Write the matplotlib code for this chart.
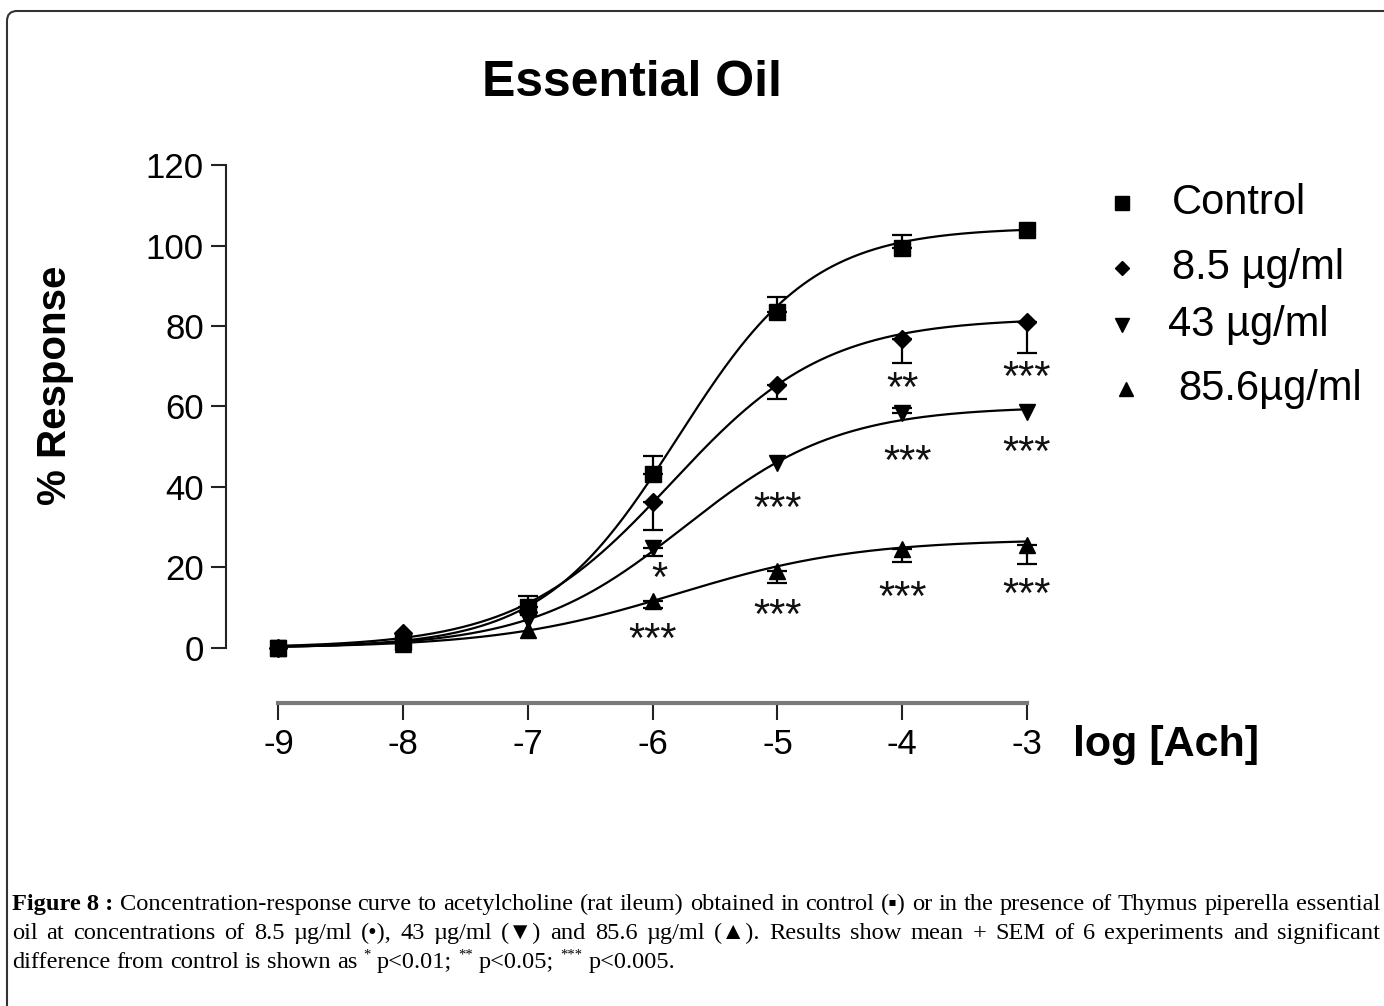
import numpy as np
import matplotlib
matplotlib.use('Agg')
import matplotlib.pyplot as plt
from matplotlib.patches import FancyBboxPatch
from matplotlib.lines import Line2D
from matplotlib.transforms import offset_copy, IdentityTransform

plt.rcParams['axes.unicode_minus'] = False
plt.rcParams['font.family'] = ['Liberation Sans', 'DejaVu Sans']

# ---------------- data ----------------
log_ach = [-9, -8, -7, -6, -5, -4, -3]
x_tick_labels = ['-9', '-8', '-7', '-6', '-5', '-4', '-3']
y_ticks = [0, 20, 40, 60, 80, 100, 120]

series_names = ['Control', '8.5 µg/ml', '43 µg/ml', '85.6µg/ml']
control = [0, 1.5, 10.2, 43.2, 83.5, 99.4, 103.8]
conc_8_5 = [0, 3.7, 9.0, 36.3, 65.3, 76.8, 81.0]
conc_43 = [0, 1.5, 7.0, 24.8, 46.0, 58.4, 58.6]
conc_85_6 = [0, 1.0, 4.5, 11.7, 19.1, 24.6, 25.6]

# SEM (lower, upper)
control_err_low = [0, 0, 0, 0, 0, 0, 0]
control_err_up = [0, 0, 2.8, 4.5, 3.8, 3.2, 0]
conc_8_5_err_low = [0, 0, 0, 7.0, 3.4, 5.9, 7.7]
conc_8_5_err_up = [0, 0, 0, 0, 0, 0, 0]
conc_43_err_low = [0, 0, 0, 2.0, 0, 0, 0]
conc_43_err_up = [0, 0, 0, 0, 0, 1.2, 0]
conc_85_6_err_low = [0, 0, 0, 1.7, 3.0, 3.2, 4.7]
conc_85_6_err_up = [0, 0, 0, 0, 0, 0, 0]

# fitted sigmoid parameters
fit_bottom = [0, 0, 0, 0]
fit_top = [104.5, 82.0, 60.0, 27.0]
fit_logec50 = [-5.8, -5.85, -5.75, -5.8]
fit_hill = [0.8, 0.7, 0.7, 0.6]

# significance labels
sig_x = [-4, -3, -5.95, -5, -3.96, -3, -6, -5, -4, -3]
sig_y = [65.8, 68.6, 18.6, 36.0, 47.7, 49.9, 3.5, 9.4, 13.9, 14.7]
sig_text = ['**', '***', '*', '***', '***', '***', '***', '***', '***', '***']

# ---------------- figure ----------------
W, H = 1384, 1006
fig = plt.figure(figsize=(W / 100, H / 100), dpi=100)
fig.patch.set_facecolor('white')

def fx(px):
    return px / W

def fy(py):
    return 1 - py / H

# outer rounded frame
frame = FancyBboxPatch((7, -60), 1500, 1006 - 11 + 60,
                       boxstyle='round,pad=0,rounding_size=10',
                       transform=IdentityTransform(), facecolor='none',
                       edgecolor='#333333', linewidth=1.5)
fig.add_artist(frame)

ax = fig.add_axes([fx(226), fy(703), (1039.5 - 226) / W, (703 - 157) / H])
ax.set_xlim(-9.42, -2.9)
ax.set_ylim(-13.7, 122)
ax.patch.set_alpha(0)

for s in ['top', 'right']:
    ax.spines[s].set_visible(False)
ax.spines['left'].set_bounds(0, 120)
ax.spines['left'].set_linewidth(1.5)
ax.spines['left'].set_color('#222222')
ax.spines['bottom'].set_bounds(-9, -3)
ax.spines['bottom'].set_linewidth(3)
ax.spines['bottom'].set_color('#7a7a7a')

ax.set_xticks(log_ach)
ax.set_xticklabels(x_tick_labels)
ax.set_yticks(y_ticks)
ax.tick_params(axis='y', length=11, width=1.5, pad=5, labelsize=25, color='#222222')
ax.tick_params(axis='x', length=12, width=1.5, pad=6, labelsize=25, color='#222222')

series = [control, conc_8_5, conc_43, conc_85_6]
err_lows = [control_err_low, conc_8_5_err_low, conc_43_err_low, conc_85_6_err_low]
err_ups = [control_err_up, conc_8_5_err_up, conc_43_err_up, conc_85_6_err_up]
markers = ['s', 'D', 'v', '^']
msizes = [12, 9, 12, 12]

xs = np.linspace(log_ach[0], log_ach[-1], 400)
for i, y in enumerate(series):
    b, t, ec, h = fit_bottom[i], fit_top[i], fit_logec50[i], fit_hill[i]
    curve = b + (t - b) / (1 + 10 ** ((ec - xs) * h))
    ax.plot(xs, curve, color='black', lw=1.6, zorder=2)
    lo = np.array(err_lows[i], float)
    up = np.array(err_ups[i], float)
    xa = np.array(log_ach, float)
    ya = np.array(y, float)
    m = (lo > 0) | (up > 0)
    if m.any():
        ax.errorbar(xa[m], ya[m], yerr=[lo[m], up[m]], fmt='none', ecolor='black',
                    elinewidth=1.6, capsize=7.5, capthick=1.6, zorder=2)
    ax.plot(log_ach, y, ls='none', marker=markers[i], ms=msizes[i], color='black',
            zorder=3, clip_on=False)

star_fs = 30
star_tr = offset_copy(ax.transData, fig=fig, y=-0.44 * star_fs, units='points')
for sx, sy, st in zip(sig_x, sig_y, sig_text):
    ax.text(sx, sy, st, ha='center', va='baseline', fontsize=star_fs,
            transform=star_tr, color='#111111')

# titles / labels
fig.text(fx(632), fy(83), 'Essential Oil', ha='center', va='center',
         fontsize=36, fontweight='bold')
fig.text(fx(55), fy(385), '% Response', rotation=90, ha='center', va='center',
         fontsize=29, fontweight='bold')
fig.text(fx(1073), fy(745), 'log [Ach]', ha='left', va='center',
         fontsize=31, fontweight='bold')

# legend (manual, matching uneven spacing)
leg_marker_x = [1122, 1122, 1122, 1126]
leg_y = [203, 268, 325, 389]
leg_text_x = [1172, 1172, 1168, 1178]
leg_ms = [10, 7.5, 10, 10]
for i in range(4):
    fig.add_artist(Line2D([fx(leg_marker_x[i])], [fy(leg_y[i])], marker=markers[i],
                          ms=leg_ms[i], color='black', ls='none',
                          transform=fig.transFigure))
    fig.text(fx(leg_text_x[i]), fy(leg_y[i]), series_names[i], ha='left', va='center',
             fontsize=30)

# ---------------- caption ----------------
cap_family = ['Liberation Serif', 'DejaVu Sans']
renderer = fig.canvas.get_renderer()

def measure(s, size, weight='normal'):
    t = fig.text(0, 0, s, fontsize=size, family=cap_family, fontweight=weight)
    w = t.get_window_extent(renderer).width
    t.remove()
    return w

line1 = [('Figure 8 :', 'bold', False)] + \
    [(w, 'normal', False) for w in
     'Concentration-response curve to acetylcholine (rat ileum) obtained in control (▪) or in the presence of Thymus piperella essential'.split(' ')]
line2 = [(w, 'normal', False) for w in
         'oil at concentrations of 8.5 µg/ml (•), 43 µg/ml (▼) and 85.6 µg/ml (▲). Results show mean + SEM of 6 experiments and significant'.split(' ')]
line3 = [(w, 'normal', False) for w in 'difference from control is shown as'.split(' ')] + \
    [('*', 'normal', True), ('p<0.01;', 'normal', False),
     ('**', 'normal', True), ('p<0.05;', 'normal', False),
     ('***', 'normal', True), ('p<0.005.', 'normal', False)]

def line_width(tokens, size):
    sp = measure('a a', size) - measure('aa', size)
    tot = 0
    for tok, wt, sup in tokens:
        tot += measure(tok, size * (0.6 if sup else 1.0), wt)
    return tot + sp * (len(tokens) - 1)

base = 15.0
cap_fs = base * 645 / line_width(line3, base) * 1.03

def place(tokens, base_y, x0, x1, justify):
    sp = measure('a a', cap_fs) - measure('aa', cap_fs)
    widths = [measure(tok, cap_fs * (0.6 if sup else 1.0), wt) for tok, wt, sup in tokens]
    if justify:
        gap = (x1 - x0 - sum(widths)) / (len(tokens) - 1)
    else:
        gap = sp
    x = x0
    for (tok, wt, sup), w in zip(tokens, widths):
        yy = base_y - (cap_fs * 0.55 if sup else 0)
        fig.text(fx(x), fy(yy), tok, fontsize=cap_fs * (0.6 if sup else 1.0),
                 family=cap_family, fontweight=wt, ha='left', va='baseline',
                 color='black')
        x += w + gap

place(line1, 910, 12, 1380, True)
place(line2, 939, 12, 1380, True)
place(line3, 968, 12, 1380, False)

fig.savefig('out.png', dpi=100)
